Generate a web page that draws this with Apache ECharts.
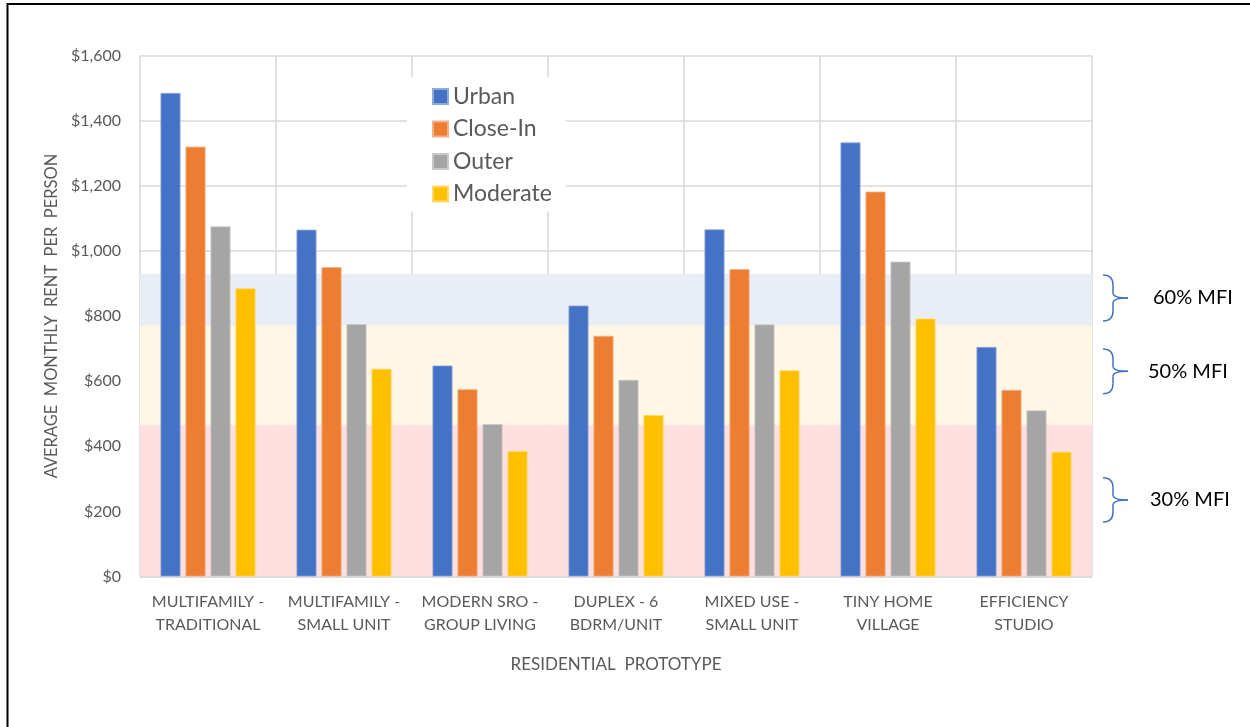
<!DOCTYPE html>
<html>
<head>
<meta charset="utf-8">
<script src="https://cdn.jsdelivr.net/npm/echarts@6/dist/echarts.min.js"></script>
<style>
  html, body { margin: 0; padding: 0; background: #fff; }
  #chart { width: 1250px; height: 727px; }
</style>
</head>
<body>
<div id="chart"></div>
<script>
// categories and series
const categories = [
  'MULTIFAMILY -\nTRADITIONAL',
  'MULTIFAMILY -\nSMALL UNIT',
  'MODERN SRO -\nGROUP LIVING',
  'DUPLEX - 6\nBDRM/UNIT',
  'MIXED USE -\nSMALL UNIT',
  'TINY HOME\nVILLAGE',
  'EFFICIENCY\nSTUDIO'
]
const seriesNames = ['Urban', 'Close-In', 'Outer', 'Moderate']
const urban    = [1485, 1065, 648, 832, 1066, 1333, 705]
const closeIn  = [1320, 950, 575, 739, 944, 1182, 573]
const outer    = [1075, 775, 468, 604, 774, 967, 510]
const moderate = [885, 638, 385, 496, 633, 792, 383]

// income bands (shaded) and the brackets drawn at right
const bandRanges = [[770, 930], [466, 770], [0, 466]]
const bandColors = ['#E9EDF6', '#FFF7E5', '#FFDFE0']
const bracketLabels = ['60% MFI', '50% MFI', '30% MFI']
const bracketRanges = [[785, 926], [561, 699], [167, 303]]
const bracketTextX = [1153, 1148, 1150]

const yTicks = { min: 0, max: 1600, interval: 200 }

const COLORS = ['#4472C4', '#ED7D31', '#A5A5A5', '#FFC000']
const BORDERS = ['#8FA9DB', '#F4B084', '#C9C9C9', '#FFD966']
const FONT = 'Lato, "Open Sans", sans-serif'
const GRID_COLOR = '#D9D9D9'

const values = [urban, closeIn, outer, moderate]

const chart = echarts.init(document.getElementById('chart'), null, { renderer: 'canvas' })

const option = {
  animation: false,
  textStyle: { fontFamily: FONT },
  grid: { left: 140, top: 55.5, right: 158, bottom: 150.5, containLabel: false },
  legend: {
    data: seriesNames,
    orient: 'vertical',
    left: 407,
    top: 77,
    padding: [8, 14, 6, 25],
    backgroundColor: '#fff',
    icon: 'rect',
    itemWidth: 15,
    itemHeight: 15,
    itemGap: 9.5,
    textStyle: { color: '#595959', fontSize: 23, fontFamily: FONT, lineHeight: 20.5 },
    z: 5
  },
  xAxis: {
    type: 'category',
    data: categories,
    z: 1,
    axisLine: { show: true, lineStyle: { color: GRID_COLOR, width: 1.5 } },
    axisTick: { show: false },
    splitLine: { show: true, interval: 0, lineStyle: { color: GRID_COLOR, width: 1.5 } },
    axisLabel: {
      interval: 0,
      margin: 14,
      color: '#595959',
      fontSize: 16,
      lineHeight: 23,
      fontFamily: FONT
    },
    name: 'RESIDENTIAL  PROTOTYPE',
    nameLocation: 'middle',
    nameGap: 80,
    nameTextStyle: { color: '#595959', fontSize: 17, fontFamily: FONT }
  },
  yAxis: {
    type: 'value',
    min: yTicks.min,
    max: yTicks.max,
    interval: yTicks.interval,
    z: 1,
    axisLine: { show: false },
    axisTick: { show: false },
    splitLine: { show: true, lineStyle: { color: GRID_COLOR, width: 1.5 } },
    axisLabel: {
      margin: 19,
      color: '#595959',
      fontSize: 16,
      fontFamily: FONT,
      formatter: (v) => '$' + v.toLocaleString('en-US')
    },
    name: 'AVERAGE  MONTHLY  RENT  PER  PERSON',
    nameLocation: 'middle',
    nameRotate: 90,
    nameGap: 80,
    nameTextStyle: { color: '#595959', fontSize: 16.5, fontFamily: FONT }
  },
  series: [
    {
      // holder for the shaded bands, drawn under the grid lines
      name: 'bands',
      type: 'line',
      data: [],
      z: 0,
      silent: true,
      markArea: {
        silent: true,
        data: bandRanges.map((r, i) => [
          { yAxis: r[0], itemStyle: { color: bandColors[i] } },
          { yAxis: r[1] }
        ])
      }
    },
    ...seriesNames.map((name, i) => ({
      name,
      type: 'bar',
      data: values[i],
      barWidth: 20,
      barGap: '25%',
      z: 2,
      itemStyle: { color: COLORS[i], borderColor: BORDERS[i], borderWidth: 0.8 }
    }))
  ],
  color: COLORS
}

chart.setOption(option)

// brackets on the right, placed with the y scale
const BRACE = { stroke: '#4472C4', lineWidth: 1.5, fill: 'none' }
function curve(xa, ya, cx, cy, xb, yb) {
  return { type: 'bezierCurve', shape: { x1: xa, y1: ya, cpx1: cx, cpy1: cy, x2: xb, y2: yb }, style: BRACE, silent: true }
}
function seg(xa, ya, xb, yb) {
  return { type: 'line', shape: { x1: xa, y1: ya, x2: xb, y2: yb }, style: BRACE, silent: true }
}
function bracket(y1, y2) {
  const x0 = 1103, x1 = 1113, xt = 1128
  const ym = (y1 + y2) / 2
  return [
    curve(x0, y1, x1, y1, x1, y1 + 10),
    seg(x1, y1 + 10, x1, ym - 5),
    curve(x1, ym - 5, x1, ym, xt, ym),
    curve(xt, ym, x1, ym, x1, ym + 5),
    seg(x1, ym + 5, x1, y2 - 10),
    curve(x1, y2 - 10, x1, y2, x0, y2)
  ]
}

const graphics = [
  {
    type: 'rect',
    shape: { x: 7.5, y: 4, width: 1400, height: 900 },
    style: { fill: 'none', stroke: '#000', lineWidth: 2 },
    silent: true,
    z: 10
  }
]
bracketRanges.forEach((r, i) => {
  const yTop = chart.convertToPixel({ yAxisIndex: 0 }, r[1])
  const yBot = chart.convertToPixel({ yAxisIndex: 0 }, r[0])
  graphics.push(...bracket(yTop, yBot))
  graphics.push({
    type: 'text',
    x: bracketTextX[i],
    y: (yTop + yBot) / 2,
    style: {
      text: bracketLabels[i],
      fill: '#000',
      font: '20px ' + FONT,
      textVerticalAlign: 'middle'
    },
    silent: true
  })
})
chart.setOption({ graphic: graphics })
</script>
</body>
</html>
